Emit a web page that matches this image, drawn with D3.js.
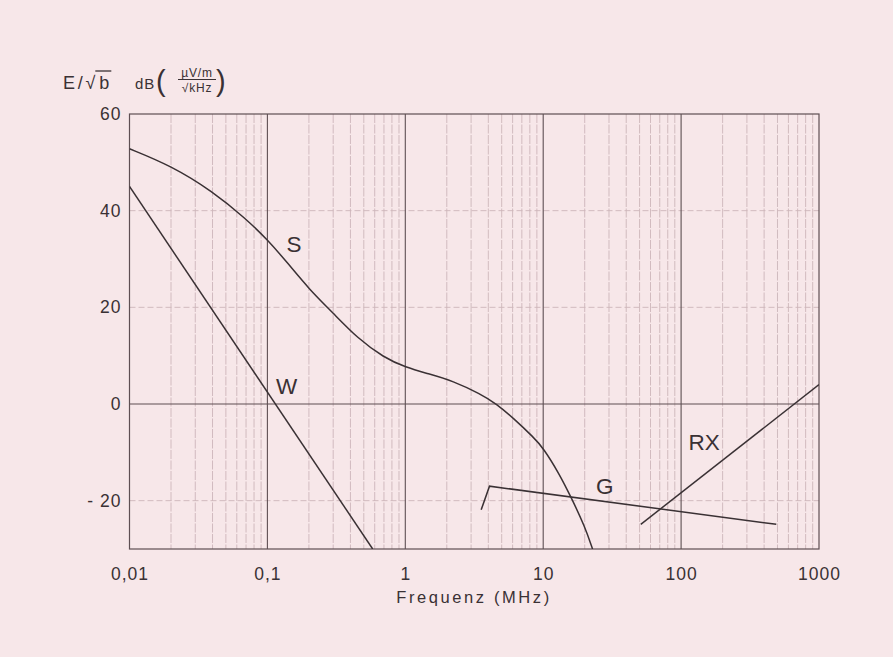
<!DOCTYPE html>
<html>
<head>
<meta charset="utf-8">
<script src="https://cdn.jsdelivr.net/npm/d3@7"></script>
<style>
  html, body { margin: 0; padding: 0; background: #f7e7e9; }
  svg { display: block; font-family: "Liberation Sans", Arial, sans-serif; }
</style>
</head>
<body>
<svg id="chart" width="893" height="657"></svg>
<script>
// Field strength per sqrt(bandwidth) vs frequency, log x axis

const xTicks = [0.01, 0.1, 1, 10, 100, 1000];
const yTicks = [-20, 0, 20, 40, 60];
const yFaint = [-20, 20, 40];

// curve S
const sFreq = [0.01, 0.02, 0.04, 0.07, 0.1, 0.14, 0.2, 0.3, 0.45, 0.7, 1, 1.5, 2.2, 3.5, 4.6, 6, 8.6, 10, 13, 16, 20, 22.8];
const sDb   = [52.8, 49.3, 44, 38.3, 34, 29.2, 23.8, 18.8, 13.6, 9.6, 7.6, 6.2, 4.8, 2.1, 0, -2.8, -7.0, -9.1, -14.3, -19.4, -25.3, -30];

// curve W
const wFreq = [0.01, 0.58];
const wDb   = [45, -30];

// curve G
const gFreq = [3.55, 4.08, 490];
const gDb   = [-21.9, -17.0, -24.9];

// curve RX
const rxFreq = [51, 1000];
const rxDb   = [-24.9, 4];

// curve labels
const labelText = ['S', 'W', 'G', 'RX'];
const labelFreq = [0.156, 0.138, 27.9, 147];
const labelDb   = [33.2, 3.7, -17.0, -7.8];

const W = 893, H = 657;
const plot = { left: 129.5, right: 819, top: 114, bottom: 549 };

const ink = '#3a3134';
const majorGrid = '#5e4f53';
const minorGrid = '#cdb5ba';

const svg = d3.select('#chart');

svg.append('rect').attr('width', W).attr('height', H).attr('fill', '#f7e7e9');

const x = d3.scaleLog().domain([0.01, 1000]).range([plot.left, plot.right]);
const y = d3.scaleLinear().domain([-30, 60]).range([plot.bottom, plot.top]);

// minor vertical grid: 2..9 in every decade
const minor = [];
for (let e = -2; e < 3; e++) {
    for (let k = 2; k <= 9; k++) minor.push(k * Math.pow(10, e));
}

const grid = svg.append('g');

grid.selectAll('line.minor').data(minor).join('line')
    .attr('class', 'minor')
    .attr('x1', d => x(d)).attr('x2', d => x(d))
    .attr('y1', plot.top).attr('y2', plot.bottom)
    .attr('stroke', minorGrid).attr('stroke-width', 0.9)
    .attr('stroke-dasharray', '9,1.5');

grid.selectAll('line.hfaint').data(yFaint).join('line')
    .attr('class', 'hfaint')
    .attr('x1', plot.left).attr('x2', plot.right)
    .attr('y1', d => y(d)).attr('y2', d => y(d))
    .attr('stroke', minorGrid).attr('stroke-width', 0.9)
    .attr('stroke-dasharray', '6,3');

grid.selectAll('line.major').data(xTicks.slice(1, -1)).join('line')
    .attr('class', 'major')
    .attr('x1', d => x(d)).attr('x2', d => x(d))
    .attr('y1', plot.top).attr('y2', plot.bottom)
    .attr('stroke', majorGrid).attr('stroke-width', 1.1);

grid.append('line')
    .attr('x1', plot.left).attr('x2', plot.right)
    .attr('y1', y(0)).attr('y2', y(0))
    .attr('stroke', majorGrid).attr('stroke-width', 1.1);

grid.append('rect')
    .attr('x', plot.left).attr('y', plot.top)
    .attr('width', plot.right - plot.left).attr('height', plot.bottom - plot.top)
    .attr('fill', 'none').attr('stroke', majorGrid).attr('stroke-width', 1.2);

// axes (labels only)
const fmt = d => String(d).replace('.', ',');

const xAxis = svg.append('g')
    .attr('transform', `translate(0,${plot.bottom})`)
    .call(d3.axisBottom(x).tickValues(xTicks).tickFormat(fmt).tickSize(0).tickPadding(19));
xAxis.select('.domain').remove();
xAxis.selectAll('text')
    .attr('font-size', 17.5).attr('fill', ink).attr('letter-spacing', 1)
    .attr('font-family', '"Liberation Sans", Arial, sans-serif');

const yAxis = svg.append('g')
    .attr('transform', `translate(${plot.left},0)`)
    .call(d3.axisLeft(y).tickValues(yTicks).tickFormat(d => d < 0 ? '- ' + Math.abs(d) : d).tickSize(0).tickPadding(8));
yAxis.select('.domain').remove();
yAxis.selectAll('text')
    .attr('font-size', 17.5).attr('fill', ink).attr('letter-spacing', 1)
    .attr('font-family', '"Liberation Sans", Arial, sans-serif');

svg.append('text')
    .attr('x', 474).attr('y', 603)
    .attr('text-anchor', 'middle')
    .attr('font-size', 16.5).attr('letter-spacing', 2.6).attr('fill', ink)
    .text('Frequenz (MHz)');

// curves
svg.append('clipPath').attr('id', 'clip')
    .append('rect')
    .attr('x', plot.left).attr('y', plot.top)
    .attr('width', plot.right - plot.left).attr('height', plot.bottom - plot.top);

const curves = svg.append('g').attr('clip-path', 'url(#clip)');

const zip = (fs, vs) => fs.map((f, i) => [f, vs[i]]);
// hand-read points are a bit noisy, so S is drawn as a B-spline through them
const smooth = d3.line().x(d => x(d[0])).y(d => y(d[1])).curve(d3.curveBasis);
const straight = d3.line().x(d => x(d[0])).y(d => y(d[1]));

curves.append('path').datum(zip(sFreq, sDb)).attr('d', smooth);
curves.append('path').datum(zip(wFreq, wDb)).attr('d', straight);
curves.append('path').datum(zip(gFreq, gDb)).attr('d', straight);
curves.append('path').datum(zip(rxFreq, rxDb)).attr('d', straight);
curves.selectAll('path')
    .attr('fill', 'none').attr('stroke', ink).attr('stroke-width', 1.5)
    .attr('stroke-linejoin', 'miter');

svg.selectAll('text.clabel').data(labelText).join('text')
    .attr('class', 'clabel')
    .attr('x', (d, i) => x(labelFreq[i])).attr('y', (d, i) => y(labelDb[i]))
    .attr('dy', '0.36em')
    .attr('text-anchor', 'middle')
    .attr('font-size', 22.5).attr('fill', ink)
    .text(d => d);

// unit title: E/sqrt(b)  dB( uV/m / sqrt(kHz) )
const title = svg.append('g').attr('fill', ink);
const t1 = title.append('text')
    .attr('x', 63).attr('y', 89).attr('font-size', 18).attr('letter-spacing', 2.8)
    .text('E/√');
const w1 = t1.node().getComputedTextLength();
const tb = title.append('text')
    .attr('x', 63 + w1 + 1).attr('y', 89).attr('font-size', 18)
    .text('b');
const wb = tb.node().getComputedTextLength();
title.append('line')
    .attr('x1', 63 + w1 - 3).attr('x2', 63 + w1 + wb + 3)
    .attr('y1', 71).attr('y2', 71)
    .attr('stroke', ink).attr('stroke-width', 1.3);

title.append('text')
    .attr('x', 135).attr('y', 89).attr('font-size', 15).attr('letter-spacing', 1)
    .text('dB');
title.append('text')
    .attr('x', 156).attr('y', 91).attr('font-size', 29)
    .text('(');
title.append('text')
    .attr('x', 197).attr('y', 77).attr('font-size', 12).attr('text-anchor', 'middle')
    .attr('letter-spacing', 0.8)
    .text('µV/m');
title.append('line')
    .attr('x1', 178).attr('x2', 216)
    .attr('y1', 79.5).attr('y2', 79.5)
    .attr('stroke', ink).attr('stroke-width', 1);
title.append('text')
    .attr('x', 197).attr('y', 91.5).attr('font-size', 12).attr('text-anchor', 'middle')
    .attr('letter-spacing', 0.8)
    .text('√kHz');
title.append('text')
    .attr('x', 216).attr('y', 91).attr('font-size', 29)
    .text(')');
</script>
</body>
</html>
